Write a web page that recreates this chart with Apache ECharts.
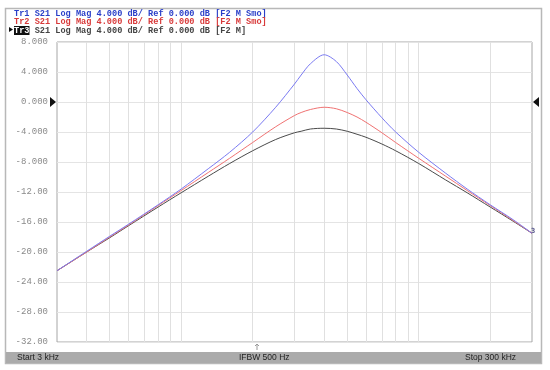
<!DOCTYPE html>
<html>
<head>
<meta charset="utf-8">
<script src="https://cdn.jsdelivr.net/npm/echarts@6/dist/echarts.min.js"></script>
<style>
  html, body { margin: 0; padding: 0; background: #fff; }
  #main { width: 550px; height: 370px; }
</style>
</head>
<body>
<div id="main"></div>
<script>
// frequencies in kHz (log axis 3 kHz .. 300 kHz)
const freqs = [3, 4, 5, 6, 8, 10, 13, 16, 20, 25, 30, 32, 35, 40, 45, 50, 55, 60, 70, 80, 100, 130, 160, 200, 250, 300];
// S21 Log Mag, dB
const tr1 = [-22.5, -19.9, -17.9, -16.3, -13.7, -11.6, -8.9, -6.7, -4.0, -0.7, 2.4, 3.6, 5.1, 6.3, 5.4, 3.6, 1.8, 0.3, -2.1, -4.0, -6.7, -9.5, -11.6, -13.7, -15.7, -17.5];
const tr2 = [-22.5, -20.0, -18.0, -16.4, -13.8, -11.8, -9.4, -7.5, -5.4, -3.3, -1.8, -1.4, -1.0, -0.7, -0.9, -1.4, -2.0, -2.7, -4.1, -5.4, -7.5, -9.9, -11.8, -13.8, -15.8, -17.5];
const tr3 = [-22.5, -20.0, -18.1, -16.5, -14.0, -12.1, -9.9, -8.2, -6.5, -5.0, -4.1, -3.9, -3.6, -3.5, -3.6, -3.9, -4.3, -4.7, -5.6, -6.5, -8.2, -10.4, -12.1, -14.0, -15.9, -17.5];
// vertical graticule (kHz)
const gridFreqs = [4, 5, 6, 7, 8, 9, 10, 20, 30, 40, 50, 60, 70, 80, 90, 100, 200];
const yTicks = { min: -32, max: 8, step: 4 };

const mono = "Liberation Mono";

function pairs(vals) {
  return freqs.map((f, i) => [f, vals[i]]);
}

let myChart = echarts.init(document.getElementById("main"));

let option = {
  animation: false,
  backgroundColor: "#fff",
  title: {
    left: 14,
    top: 10,
    padding: 0,
    text:
      "{b|Tr1 S21 Log Mag 4.000 dB/ Ref 0.000 dB [F2 M Smo]}\n" +
      "{r|Tr2 S21 Log Mag 4.000 dB/ Ref 0.000 dB [F2 M Smo]}\n" +
      "{t|Tr3}{k| S21 Log Mag 4.000 dB/ Ref 0.000 dB [F2 M]}",
    textStyle: {
      rich: {
        b: { color: "#2a3fc8", fontFamily: mono, fontSize: 8.6, lineHeight: 8.2 },
        r: { color: "#d83a3a", fontFamily: mono, fontSize: 8.6, lineHeight: 8.2 },
        t: { color: "#fff", backgroundColor: "#111", fontFamily: mono, fontSize: 8.6, lineHeight: 8.2 },
        k: { color: "#444", fontFamily: mono, fontSize: 8.6, lineHeight: 8.2 },
      },
    },
  },
  grid: {
    left: 57,
    right: 18,
    top: 42,
    bottom: 28,
    show: true,
    borderColor: "#a6a6a6",
    borderWidth: 1,
    backgroundColor: "#fff",
  },
  xAxis: {
    type: "log",
    logBase: 10,
    min: 3,
    max: 300,
    axisLine: { show: false },
    axisTick: { show: false },
    axisLabel: { show: false },
    splitLine: { show: false },
  },
  yAxis: {
    type: "value",
    min: yTicks.min,
    max: yTicks.max,
    interval: yTicks.step,
    axisLine: { show: false },
    axisTick: { show: false },
    splitLine: { lineStyle: { color: "#e4e4e4", width: 1 } },
    axisLabel: {
      margin: 9,
      color: "#8a8a8a",
      fontFamily: mono,
      fontSize: 9,
      formatter: function (v) {
        return Math.abs(v) >= 10 ? v.toFixed(2) : v.toFixed(3);
      },
    },
  },
  series: [
    {
      name: "Tr3",
      type: "line",
      data: pairs(tr3),
      smooth: 0.3,
      symbol: "none",
      lineStyle: { color: "#4a4a4a", width: 1 },
      z: 3,
      markLine: {
        silent: true,
        symbol: "none",
        label: { show: false },
        lineStyle: { color: "#e0e0e0", type: "solid", width: 1 },
        data: gridFreqs.map((f) => ({ xAxis: f })),
        z: 1,
      },
    },
    {
      name: "Tr2",
      type: "line",
      data: pairs(tr2),
      smooth: 0.3,
      symbol: "none",
      lineStyle: { color: "#f07272", width: 1 },
      z: 4,
    },
    {
      name: "Tr1",
      type: "line",
      data: pairs(tr1),
      smooth: 0.3,
      symbol: "none",
      lineStyle: { color: "#7a7af2", width: 1 },
      z: 5,
    },
  ],
};
myChart.setOption(option);

// reference markers, frame and status bar
let y0 = myChart.convertToPixel({ yAxisIndex: 0 }, 0);
myChart.setOption({
  graphic: [
    {
      type: "rect",
      shape: { x: 5.5, y: 8.5, width: 536, height: 355 },
      style: { fill: null, stroke: "#b8b8b8", lineWidth: 1.5 },
      silent: true,
      z: 0,
    },
    {
      type: "rect",
      shape: { x: 6, y: 352, width: 535, height: 11 },
      style: { fill: "#ababab" },
      silent: true,
    },
    {
      type: "text",
      left: 17,
      top: 353,
      style: { text: "Start 3 kHz", fill: "#222", font: "8.5px 'Liberation Sans'" },
    },
    {
      type: "text",
      left: 239,
      top: 353,
      style: { text: "IFBW 500 Hz", fill: "#222", font: "8.5px 'Liberation Sans'" },
    },
    {
      type: "text",
      left: 465,
      top: 353,
      style: { text: "Stop 300 kHz", fill: "#222", font: "8.5px 'Liberation Sans'" },
    },
    {
      type: "polygon",
      shape: { points: [[50, y0 - 5], [56, y0], [50, y0 + 5]] },
      style: { fill: "#111" },
    },
    {
      type: "polygon",
      shape: { points: [[539, y0 - 5], [533, y0], [539, y0 + 5]] },
      style: { fill: "#111" },
    },
    {
      type: "polygon",
      shape: { points: [[9, 27], [13, 29.5], [9, 32]] },
      style: { fill: "#111" },
    },
    {
      type: "polyline",
      shape: { points: [[257, 344], [257, 350]] },
      style: { stroke: "#999", lineWidth: 1 },
    },
    {
      type: "polyline",
      shape: { points: [[255, 346], [257, 344], [259, 346]] },
      style: { stroke: "#999", lineWidth: 1, fill: null },
    },
    {
      type: "text",
      left: 531,
      top: 228,
      style: { text: "3", fill: "#55558a", font: "bold 7px 'DejaVu Sans Mono'" },
    },
  ],
});
</script>
</body>
</html>
